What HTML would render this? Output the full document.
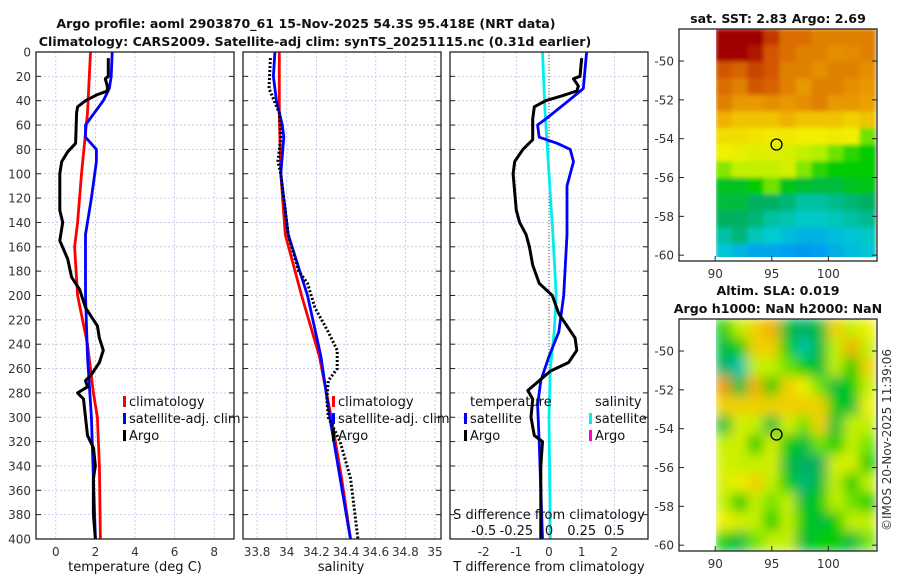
<!DOCTYPE html>
<html><head><meta charset="utf-8">
<style>
html,body{margin:0;padding:0;background:#fff;}
svg{display:block;font-family:"DejaVu Sans","Liberation Sans",sans-serif;}
.tk{font-size:12px;fill:#333;}
.lg{font-size:13px;fill:#111;}
.ttl{font-size:12.6px;font-weight:bold;fill:#111;}
</style></head>
<body>
<svg id="chart" width="900" height="580" viewBox="0 0 900 580">
<defs>
<clipPath id="c1"><rect x="36" y="52" width="198" height="487"/></clipPath>
<clipPath id="c2"><rect x="243" y="52" width="198" height="487"/></clipPath>
<clipPath id="c3"><rect x="450" y="52" width="198" height="487"/></clipPath>
<clipPath id="cm1"><rect x="716" y="29" width="160" height="228"/></clipPath>
<clipPath id="cm2"><rect x="716" y="319" width="160" height="232"/></clipPath>
<filter id="b1"><feGaussianBlur stdDeviation="2"/></filter>
<filter id="b2"><feGaussianBlur stdDeviation="6"/></filter>
</defs>
<text class="ttl" x="306" y="28" text-anchor="middle">Argo profile: aoml 2903870_61 15-Nov-2025 54.3S 95.418E (NRT data)</text>
<text class="ttl" x="315" y="46" text-anchor="middle">Climatology: CARS2009. Satellite-adj clim: synTS_20251115.nc (0.31d earlier)</text>
<text class="ttl" x="778" y="23" text-anchor="middle">sat. SST: 2.83 Argo: 2.69</text>
<text class="ttl" x="778" y="295" text-anchor="middle">Altim. SLA: 0.019</text>
<text class="ttl" x="778" y="313" text-anchor="middle">Argo h1000: NaN h2000: NaN</text>
<text class="tk" transform="translate(891,440) rotate(-90)" text-anchor="middle">©IMOS 20-Nov-2025 11:39:06</text>
<g id="g1"></g>
<g id="g2"></g>
<g id="g3"></g>
<g id="gm1"></g>
<g id="gm2"></g>
</svg>
<script>
// ---- data ----
const depthTicks=[0,20,40,60,80,100,120,140,160,180,200,220,240,260,280,300,320,340,360,380,400];
const tTicks=[0,2,4,6,8];
const sTicks=[33.8,34,34.2,34.4,34.6,34.8,35];
const sTickLabels=["33.8","34","34.2","34.4","34.6","34.8","35"];
const dTicks=[-2,-1,0,1,2];
const sdTicks=[-0.5,-0.25,0,0.25,0.5];
const sdTickLabels=["-0.5","-0.25","0","0.25","0.5"];

const climTDepth=[0,50,100,140,160,200,240,280,300,340,400];
const climT=[1.75,1.6,1.3,1.1,0.95,1.1,1.6,1.9,2.1,2.2,2.25];
const satTDepth=[0,20,30,40,60,70,80,90,120,150,200,250,300,350,400];
const satT=[2.85,2.8,2.7,2.4,1.5,1.5,2.05,2.05,1.8,1.5,1.5,1.6,1.8,1.9,2.0];
const argoTDepth=[5,20,22,28,32,35,40,45,50,75,82,90,100,130,140,155,170,185,195,210,225,235,245,255,265,270,275,280,285,300,315,325,340,350,380,400];
const argoT=[2.65,2.65,2.5,2.6,2.6,2.1,1.5,1.1,1.05,1.0,0.6,0.3,0.2,0.2,0.35,0.2,0.6,0.8,1.2,1.5,2.1,2.2,2.4,2.2,1.8,1.5,1.6,1.1,1.4,1.5,1.6,1.9,2.0,1.9,1.9,2.0];

const climSDepth=[0,50,100,150,200,250,300,350,400];
const climS=[33.95,33.95,33.96,33.99,34.1,34.22,34.3,34.37,34.43];
const satSDepth=[0,20,40,60,70,100,150,200,250,300,350,400];
const satS=[33.92,33.91,33.93,33.97,33.98,33.96,34.01,34.14,34.23,34.29,34.36,34.43];
const argoSDepth=[5,30,50,70,90,100,150,180,190,210,230,245,260,270,285,300,320,350,380,400];
const argoS=[33.89,33.88,33.95,33.96,33.94,33.96,34.01,34.08,34.14,34.19,34.28,34.34,34.34,34.28,34.27,34.28,34.36,34.43,34.46,34.48];

const argoDDepth=[5,20,22,28,32,36,40,45,55,72,80,90,100,130,140,150,160,175,190,200,215,225,235,245,255,262,270,278,285,300,315,320,340,400];
const argoDT=[1.0,0.95,0.75,0.9,0.85,0.4,-0.1,-0.45,-0.5,-0.5,-0.8,-1.05,-1.1,-1.0,-0.9,-0.7,-0.6,-0.5,-0.3,0.1,0.3,0.55,0.8,0.85,0.6,0.05,-0.3,-0.65,-0.5,-0.55,-0.45,-0.2,-0.25,-0.25];
const satDDepth=[0,30,40,55,60,70,75,80,90,110,150,200,230,250,270,290,320,400];
const satDT=[1.15,1.05,0.6,-0.1,-0.35,-0.3,0.25,0.65,0.75,0.55,0.55,0.45,0.3,0.0,-0.25,-0.35,-0.3,-0.2];
const satDSDepth=[0,50,100,150,200,230,260,300,350,400];
const satDS=[-0.05,-0.03,0.0,0.03,0.055,0.04,0.01,0.0,0.005,0.01];

const sstGrid=[
[1.0,1.0,1.0,0.95,0.88,0.88,0.85,0.85,0.85,0.85],
[1.0,1.0,0.98,0.92,0.88,0.85,0.85,0.82,0.83,0.85],
[0.92,0.9,0.94,0.92,0.85,0.85,0.82,0.85,0.85,0.82],
[0.88,0.85,0.92,0.9,0.85,0.8,0.85,0.85,0.82,0.8],
[0.85,0.8,0.8,0.82,0.8,0.82,0.85,0.8,0.8,0.78],
[0.75,0.72,0.72,0.72,0.75,0.72,0.72,0.72,0.7,0.72],
[0.68,0.68,0.67,0.66,0.66,0.65,0.65,0.66,0.65,0.55],
[0.65,0.64,0.63,0.63,0.62,0.6,0.58,0.55,0.52,0.5],
[0.56,0.6,0.6,0.6,0.62,0.56,0.52,0.5,0.5,0.5],
[0.47,0.47,0.5,0.55,0.48,0.46,0.45,0.45,0.47,0.48],
[0.45,0.45,0.42,0.42,0.4,0.36,0.36,0.38,0.4,0.42],
[0.42,0.42,0.4,0.36,0.35,0.33,0.33,0.34,0.36,0.38],
[0.36,0.4,0.34,0.32,0.28,0.25,0.25,0.28,0.3,0.33],
[0.3,0.26,0.22,0.22,0.2,0.18,0.2,0.24,0.28,0.3]];
const slaGrid=[
[0.5,0.6,0.7,0.75,0.45,0.42,0.45,0.7,0.6,0.65],
[0.45,0.5,0.7,0.7,0.5,0.36,0.45,0.6,0.75,0.6],
[0.42,0.35,0.6,0.6,0.55,0.5,0.45,0.6,0.5,0.7],
[0.8,0.45,0.75,0.5,0.7,0.65,0.55,0.45,0.5,0.6],
[0.7,0.7,0.7,0.7,0.7,0.7,0.7,0.5,0.45,0.65],
[0.45,0.62,0.6,0.45,0.62,0.55,0.7,0.45,0.6,0.6],
[0.6,0.62,0.5,0.62,0.5,0.45,0.55,0.5,0.6,0.55],
[0.62,0.6,0.6,0.62,0.45,0.42,0.42,0.62,0.62,0.5],
[0.62,0.65,0.7,0.6,0.5,0.4,0.45,0.6,0.5,0.6],
[0.6,0.5,0.6,0.55,0.6,0.45,0.5,0.6,0.55,0.5],
[0.65,0.62,0.6,0.5,0.6,0.5,0.45,0.5,0.6,0.6],
[0.5,0.45,0.55,0.6,0.6,0.45,0.5,0.5,0.45,0.55]];
const latTicks=[-50,-52,-54,-56,-58,-60];
const lonTicks=[90,95,100];
const argoLon=95.418, argoLat=-54.3;

// ---- helpers ----
const NS="http://www.w3.org/2000/svg";
function mk(parent,tag,attrs,text){const e=document.createElementNS(NS,tag);for(const k in attrs)e.setAttribute(k,attrs[k]);if(text!==undefined)e.textContent=text;parent.appendChild(e);return e;}
const Y0=52,Y1=539;
const yD=d=>Y0+(d/400)*(Y1-Y0);
function lin(d0,d1,r0,r1){return v=>r0+(v-d0)/(d1-d0)*(r1-r0);}
const xT=lin(-1,9,36,234);
const xS=lin(33.705,35.04,243,441);
const xD=lin(-3.03,3.03,450,648);
const xSD=v=>xD(v*4);

function panelFrame(g,x0,clip,xs,ticks,labels,showY){
  depthTicks.forEach(d=>{
    const l=mk(g,'line',{x1:x0,x2:x0+198,y1:yD(d),y2:yD(d),stroke:'#b8c4e8','stroke-width':0.8,'stroke-dasharray':'2,2'});
    
    
  });
  ticks.forEach((t,i)=>{
    const l=mk(g,'line',{x1:xs(t),x2:xs(t),y1:Y0,y2:Y1,stroke:'#b8c4e8','stroke-width':0.8,'stroke-dasharray':'2,2'});
    
    
  });
  depthTicks.forEach(d=>{
    mk(g,'line',{x1:x0,x2:x0+5,y1:yD(d),y2:yD(d),stroke:'#222'});
    mk(g,'line',{x1:x0+198-5,x2:x0+198,y1:yD(d),y2:yD(d),stroke:'#222'});
    if(showY){const t=mk(g,'text',{class:'tk',x:x0-5,y:yD(d)+4.5,'text-anchor':'end'},String(d));
      
      }
  });
  if(labels){ticks.forEach((t,i)=>{
    const tx=mk(g,'text',{class:'tk',x:xs(t),y:Y1+17,'text-anchor':'middle'},labels[i]);
    
    
  });}
}
function frameBox(g,x0){
  const r=mk(g,'rect',{x:x0,y:Y0,width:198,height:Y1-Y0,fill:'none',stroke:'#222','stroke-width':1.3});
  
  
}
function path(g,xs,vals,depths,color,w,name,dash,clip){
  let d='';vals.forEach((v,i)=>{d+=(i?'L':'M')+xs(v).toFixed(1)+','+yD(depths[i]).toFixed(1);});
  const a={d:d,fill:'none',stroke:color,'stroke-width':w,'stroke-linejoin':'round','clip-path':'url(#'+clip+')'};
  if(dash)a['stroke-dasharray']=dash;
  const p=mk(g,'path',a);
  
  
}
function legend(g,x,y,color,label,name){
  const m=mk(g,'rect',{x:x-6,y:y-10,width:3,height:11,fill:color});
  
  
  const t=mk(g,'text',{class:'lg',x:x,y:y},label);
  
  
}

// panel 1
const g1=document.getElementById('g1');
panelFrame(g1,36,'c1',xT,tTicks,tTicks.map(String),true);
path(g1,xT,climT,climTDepth,'#ff0000',2.8,'climatology-temperature-line',null,'c1');
path(g1,xT,satT,satTDepth,'#0000ff',2.8,'satellite-temperature-line',null,'c1');
path(g1,xT,argoT,argoTDepth,'#000',3,'argo-temperature-line',null,'c1');
frameBox(g1,36);
legend(g1,129,406,'#ff0000','climatology','legend-climatology');
legend(g1,129,423,'#0000ff','satellite-adj. clim','legend-satellite');
legend(g1,129,440,'#000','Argo','legend-argo');
let t1=mk(g1,'text',{class:'lg',x:135,y:571,'text-anchor':'middle'},'temperature (deg C)');



// panel 2
const g2=document.getElementById('g2');
panelFrame(g2,243,'c2',xS,sTicks,sTickLabels,false);
path(g2,xS,climS,climSDepth,'#ff0000',2.8,'climatology-salinity-line',null,'c2');
path(g2,xS,satS,satSDepth,'#0000ff',2.8,'satellite-salinity-line',null,'c2');
path(g2,xS,argoS,argoSDepth,'#000',3,'argo-salinity-line','2,2','c2');
frameBox(g2,243);
legend(g2,338,406,'#ff0000','climatology','legend-climatology');
legend(g2,338,423,'#0000ff','satellite-adj. clim','legend-satellite');
legend(g2,338,440,'#000','Argo','legend-argo');
let t2=mk(g2,'text',{class:'lg',x:341,y:571,'text-anchor':'middle'},'salinity');



// panel 3
const g3=document.getElementById('g3');
panelFrame(g3,450,'c3',xD,dTicks,dTicks.map(String),false);
let z=mk(g3,'line',{x1:xD(0),x2:xD(0),y1:Y0,y2:Y1,stroke:'#555','stroke-width':1,'stroke-dasharray':'1,2'});


path(g3,xSD,satDS,satDSDepth,'#00eeee',2.8,'satellite-salinity-diff-line',null,'c3');
path(g3,xD,satDT,satDDepth,'#0000ff',2.8,'satellite-temperature-diff-line',null,'c3');
path(g3,xD,argoDT,argoDDepth,'#000',3,'argo-temperature-diff-line',null,'c3');
frameBox(g3,450);
let tt=mk(g3,'text',{class:'lg',x:470,y:406},'temperature');


legend(g3,470,423,'#0000ff','satellite','legend-temp-satellite');
legend(g3,470,440,'#000','Argo','legend-temp-argo');
let ts=mk(g3,'text',{class:'lg',x:595,y:406},'salinity');


legend(g3,595,423,'#00eeee','satellite','legend-sal-satellite');
legend(g3,595,440,'#ff00cc','Argo','legend-sal-argo');
let sdT=mk(g3,'text',{class:'lg',x:549,y:519,'text-anchor':'middle'},'S difference from climatology');


sdTicks.forEach((v,i)=>{
  const t=mk(g3,'text',{class:'lg',x:xSD(v),y:535,'text-anchor':'middle'},sdTickLabels[i]);
  
  
});
let t3=mk(g3,'text',{class:'lg',x:549,y:571,'text-anchor':'middle'},'T difference from climatology');



// colormap
const stops=[[0,[0,80,224]],[0.2,[0,160,240]],[0.32,[0,204,208]],[0.42,[0,176,96]],[0.5,[0,204,0]],[0.58,[176,240,0]],[0.65,[240,240,0]],[0.75,[240,176,0]],[0.85,[224,128,0]],[0.93,[208,80,0]],[1,[160,0,0]]];
function cmap(v){v=Math.max(0,Math.min(1,v));for(let i=1;i<stops.length;i++){if(v<=stops[i][0]){const a=stops[i-1],b=stops[i],f=(v-a[0])/(b[0]-a[0]);const c=a[1].map((x,k)=>Math.round(x+(b[1][k]-x)*f));return 'rgb('+c.join(',')+')';}}return 'rgb(160,0,0)';}

function drawMap(gid,grid,top,bottom,clip,blur,latTop,latBot,name){
  const g=document.getElementById(gid);
  const lonL=86.8,lonR=104.3;
  const xL=lin(lonL,lonR,679,877), yL=lin(latTop,latBot,top,bottom);
  const gc=mk(g,'g',{'clip-path':'url(#'+clip+')'});
  const gi=mk(gc,'g',{filter:'url(#'+blur+')'});
  const rows=grid.length,cols=grid[0].length;
  const x0=716,w=160/cols,y0=top,h=(bottom-top)/rows;
  grid.forEach((row,r)=>row.forEach((v,c)=>{
    const cell=mk(gi,'rect',{x:(x0+c*w-0.5).toFixed(1),y:(y0+r*h-0.5).toFixed(1),width:(w+1).toFixed(1),height:(h+1).toFixed(1),fill:cmap(v)});
    
    
  }));
  mk(g,'rect',{x:679,y:top,width:37,height:bottom-top,fill:'#fff'});
  const box=mk(g,'rect',{x:679,y:top,width:198,height:bottom-top,fill:'none',stroke:'#222','stroke-width':1.3});
  
  
  latTicks.forEach(l=>{
    const y=yL(l);
    mk(g,'line',{x1:679,x2:684,y1:y,y2:y,stroke:'#222'});
    mk(g,'line',{x1:872,x2:877,y1:y,y2:y,stroke:'#222'});
    const t=mk(g,'text',{class:'tk',x:674,y:y+4.5,'text-anchor':'end'},String(l));
    
    
  });
  lonTicks.forEach(l=>{
    const x=xL(l);
    mk(g,'line',{x1:x,x2:x,y1:bottom,y2:bottom-5,stroke:'#222'});
    const t=mk(g,'text',{class:'tk',x:x,y:bottom+17,'text-anchor':'middle'},String(l));
    
    
  });
  const c=mk(g,'circle',{cx:xL(argoLon),cy:yL(argoLat),r:5.5,fill:'none',stroke:'#000','stroke-width':1.3});
  
  
}
drawMap('gm1',sstGrid,29,261,'cm1','b1',-48.35,-60.3,'sst');
drawMap('gm2',slaGrid,319,551,'cm2','b2',-48.35,-60.3,'sla');
</script>
</body></html>
